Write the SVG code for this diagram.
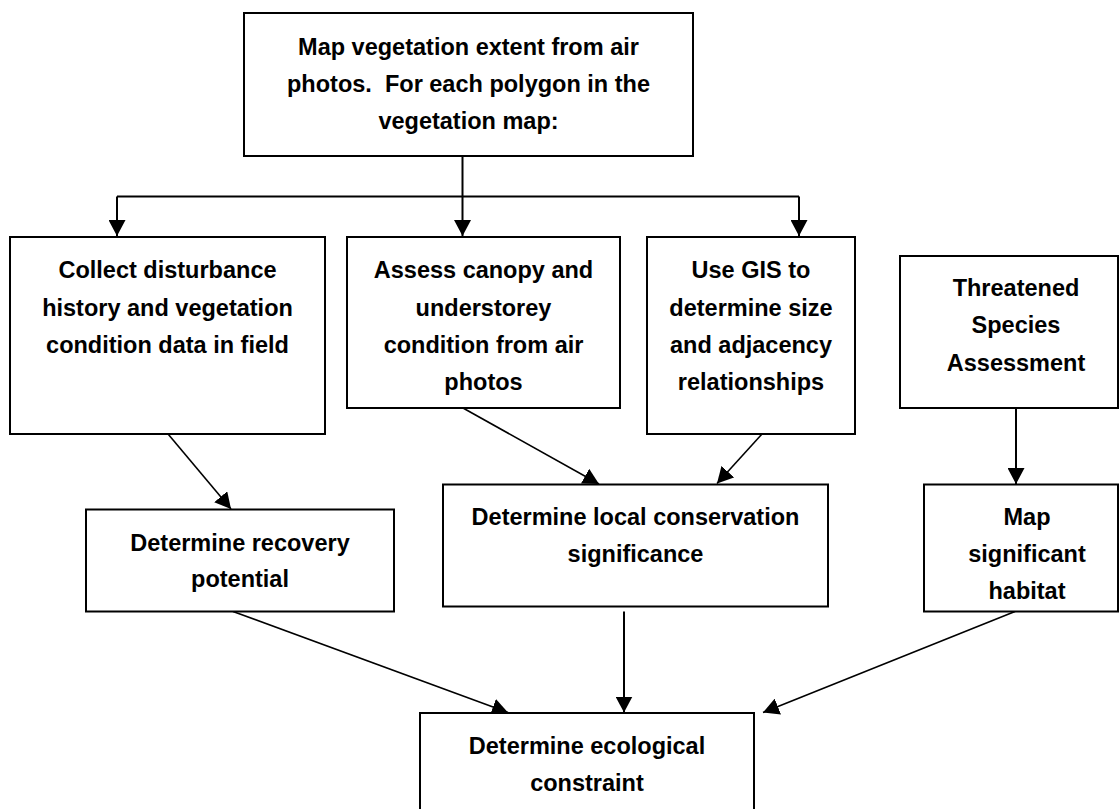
<svg xmlns="http://www.w3.org/2000/svg" width="1120" height="809" viewBox="0 0 1120 809">
<style>
.box{fill:#fff;stroke:#000;stroke-width:2}
.t{font-family:"Liberation Sans",Arial,sans-serif;font-weight:bold;font-size:23.5px;fill:#000;text-anchor:middle}
.c{fill:none;stroke:#000;stroke-width:2}
.d{fill:none;stroke:#000;stroke-width:1.6}
</style>
<defs>
<marker id="ah" markerUnits="userSpaceOnUse" markerWidth="17" markerHeight="17" refX="16" refY="8.5" orient="auto">
<path d="M0,0 L16,8.5 L0,17 z" fill="#000"/>
</marker>
</defs>
<rect width="1120" height="809" fill="#fff"/>
<g id="connectors">
<path class="c" d="M462.5,156 V196.5"/>
<path class="c" d="M117,196.5 H799"/>
<path class="c" d="M117,196.5 V236" marker-end="url(#ah)"/>
<path class="c" d="M462.5,196.5 V236" marker-end="url(#ah)"/>
<path class="c" d="M799,196.5 V236" marker-end="url(#ah)"/>
<path class="d" d="M163,428 L231,509" marker-end="url(#ah)"/>
<path class="d" d="M463,408 L599,484" marker-end="url(#ah)"/>
<path class="d" d="M762,434 L717,483.5" marker-end="url(#ah)"/>
<path class="c" d="M1016,408 V484" marker-end="url(#ah)"/>
<path class="d" d="M233,611.5 L508,712.5" marker-end="url(#ah)"/>
<path class="c" d="M624,611.5 V712.5" marker-end="url(#ah)"/>
<path class="d" d="M1015,611.5 L763,712.5" marker-end="url(#ah)"/>
</g>
<g id="n-map-extent">
<rect class="box" x="244" y="13" width="449" height="143"/>
<text class="t" x="468.5" y="55">Map vegetation extent from air</text>
<text class="t" x="468.5" y="92">photos.&#160; For each polygon in the</text>
<text class="t" x="468.5" y="129">vegetation map:</text>
</g>
<g id="n-collect">
<rect class="box" x="10" y="237" width="315" height="197"/>
<text class="t" x="167.5" y="278">Collect disturbance</text>
<text class="t" x="167.5" y="316">history and vegetation</text>
<text class="t" x="167.5" y="353">condition data in field</text>
</g>
<g id="n-assess">
<rect class="box" x="347" y="237" width="273" height="171"/>
<text class="t" x="483.5" y="278">Assess canopy and</text>
<text class="t" x="483.5" y="316">understorey</text>
<text class="t" x="483.5" y="353">condition from air</text>
<text class="t" x="483.5" y="390">photos</text>
</g>
<g id="n-gis">
<rect class="box" x="647" y="237" width="208" height="197"/>
<text class="t" x="751" y="278">Use GIS to</text>
<text class="t" x="751" y="316">determine size</text>
<text class="t" x="751" y="353">and adjacency</text>
<text class="t" x="751" y="390">relationships</text>
</g>
<g id="n-threatened">
<rect class="box" x="900" y="256" width="218" height="152"/>
<text class="t" x="1016" y="296">Threatened</text>
<text class="t" x="1016" y="333">Species</text>
<text class="t" x="1016" y="371">Assessment</text>
</g>
<g id="n-recovery">
<rect class="box" x="86" y="509.5" width="308" height="102"/>
<text class="t" x="240" y="551">Determine recovery</text>
<text class="t" x="240" y="587">potential</text>
</g>
<g id="n-local">
<rect class="box" x="443" y="484.5" width="385" height="122"/>
<text class="t" x="635.5" y="525">Determine local conservation</text>
<text class="t" x="635.5" y="562">significance</text>
</g>
<g id="n-habitat">
<rect class="box" x="924" y="484.5" width="194" height="127"/>
<text class="t" x="1027" y="525">Map</text>
<text class="t" x="1027" y="562">significant</text>
<text class="t" x="1027" y="599">habitat</text>
</g>
<g id="n-ecological">
<rect class="box" x="420" y="713" width="334" height="110"/>
<text class="t" x="587" y="754">Determine ecological</text>
<text class="t" x="587" y="791">constraint</text>
</g>
</svg>
